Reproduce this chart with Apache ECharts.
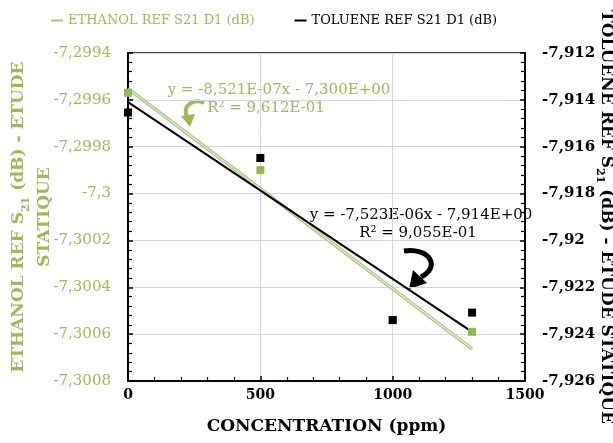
<!DOCTYPE html>
<html>
<head>
<meta charset="utf-8">
<script src="https://cdn.jsdelivr.net/npm/echarts@6/dist/echarts.min.js"></script>
<style>
html, body { margin: 0; padding: 0; background: #fff; }
#chart { width: 613px; height: 443px; }
</style>
</head>
<body>
<div id="chart"></div>
<script>
// concentrations (ppm) and S21 readings (dB)
const concentration = [0, 500, 1000, 1300];
const ethanolS21 = [-7.29957, -7.29990, -7.30054, -7.30059];
const tolueneS21 = [-7.91454, -7.91648, -7.92340, -7.92308];

// axis ranges
const xRange = [0, 1500, 500];
const leftRange = [-7.3008, -7.2994, 0.0002];
const rightRange = [-7.926, -7.912, 0.002];

const ethanolName = 'ETHANOL REF S21 D1 (dB)';
const tolueneName = 'TOLUENE REF S21 D1 (dB)';
const ethanolEq = ['y = -8,521E-07x - 7,300E+00', 'R² = 9,612E-01'];
const tolueneEq = ['y = -7,523E-06x - 7,914E+00', 'R² = 9,055E-01'];

const GREEN = '#9bbb59';
const GRIDC = '#c9daf3';
const FONT = '"DejaVu Serif", serif';

function linReg(xs, ys) {
    const n = xs.length;
    let mx = 0, my = 0;
    for (let i = 0; i < n; i++) { mx += xs[i]; my += ys[i]; }
    mx /= n; my /= n;
    let sxy = 0, sxx = 0;
    for (let i = 0; i < n; i++) {
        sxy += (xs[i] - mx) * (ys[i] - my);
        sxx += (xs[i] - mx) * (xs[i] - mx);
    }
    const m = sxy / sxx;
    return { m: m, b: my - m * mx };
}

function trend(xs, ys) {
    const r = linReg(xs, ys);
    const x0 = Math.min.apply(null, xs), x1 = Math.max.apply(null, xs);
    return [[x0, r.b + r.m * x0], [x1, r.b + r.m * x1]];
}

function fmt(v) {
    return String(parseFloat(v.toFixed(4))).replace('.', ',');
}

const pts = (ys) => concentration.map((x, i) => [x, ys[i]]);

const tickStyle = { inside: true, length: 5, lineStyle: { color: '#000', width: 1.5 } };
const minorStyle = { show: true, splitNumber: 5, length: 4, lineStyle: { color: '#000', width: 1.2 } };

let myChart = echarts.init(document.getElementById('chart'));
myChart.setOption({
    animation: false,
    textStyle: { fontFamily: FONT },
    grid: {
        left: 128, right: 88, top: 53, bottom: 62,
        containLabel: false, outerBoundsMode: 'none',
        show: true, borderColor: '#000', borderWidth: 1.5
    },
    legend: {
        left: 46, top: 9,
        itemGap: 40,
        icon: 'rect', itemWidth: 12, itemHeight: 2,
        textStyle: { fontFamily: FONT, fontSize: 13 },
        data: [
            { name: ethanolName, textStyle: { color: GREEN } },
            { name: tolueneName, textStyle: { color: '#000' } }
        ]
    },
    xAxis: {
        type: 'value',
        min: xRange[0], max: xRange[1], interval: xRange[2],
        name: 'CONCENTRATION (ppm)',
        nameLocation: 'middle', nameGap: 37, nameMoveOverlap: false,
        nameTextStyle: { color: '#000', fontSize: 17, fontWeight: 'bold', fontFamily: FONT },
        axisLine: { lineStyle: { color: '#000', width: 2 } },
        axisTick: tickStyle,
        minorTick: minorStyle,
        axisLabel: { color: '#000', fontSize: 14, fontWeight: 'bold', margin: 7, formatter: (v) => String(v) },
        splitLine: { show: true, lineStyle: { color: GRIDC, width: 1 } }
    },
    yAxis: [
        {
            type: 'value', position: 'left',
            min: leftRange[0], max: leftRange[1], interval: leftRange[2],
            name: '{a|ETHANOL REF S}{s|21}{a| (dB) - ETUDE}\n{a|STATIQUE}',
            nameLocation: 'middle', nameRotate: 90, nameGap: 70, nameMoveOverlap: false,
            nameTextStyle: {
                color: GREEN,
                rich: {
                    a: { fontSize: 17, fontWeight: 'bold', color: GREEN, fontFamily: FONT, lineHeight: 26 },
                    s: { fontSize: 11, fontWeight: 'bold', color: GREEN, fontFamily: FONT, verticalAlign: 'bottom', lineHeight: 26 }
                }
            },
            axisLine: { show: true, onZero: false, lineStyle: { color: '#000', width: 2 } },
            axisTick: tickStyle,
            minorTick: minorStyle,
            axisLabel: { color: GREEN, fontSize: 15, margin: 17, formatter: fmt },
            splitLine: { show: true, lineStyle: { color: GRIDC, width: 1 } }
        },
        {
            type: 'value', position: 'right',
            min: rightRange[0], max: rightRange[1], interval: rightRange[2],
            name: '{a|TOLUENE REF S}{s|21}{a| (dB) - ETUDE STATIQUE}',
            nameLocation: 'middle', nameRotate: -90, nameGap: 69, nameMoveOverlap: false,
            nameTextStyle: {
                color: '#000',
                rich: {
                    a: { fontSize: 17, fontWeight: 'bold', color: '#000', fontFamily: FONT, lineHeight: 25 },
                    s: { fontSize: 11, fontWeight: 'bold', color: '#000', fontFamily: FONT, verticalAlign: 'bottom', lineHeight: 25 }
                }
            },
            axisLine: { show: true, onZero: false, lineStyle: { color: '#000', width: 2 } },
            axisTick: tickStyle,
            minorTick: minorStyle,
            axisLabel: { color: '#000', fontSize: 15, fontWeight: 'bold', margin: 17, formatter: fmt },
            splitLine: { show: false }
        }
    ],
    series: [
        {
            name: ethanolName, type: 'line', yAxisIndex: 0,
            data: trend(concentration, ethanolS21),
            showSymbol: false, symbol: 'none', color: '#a8c77c',
            lineStyle: { color: '#a8c77c', width: 3.5 }, z: 3
        },
        {
            name: 'ethanol trend inner', type: 'line', yAxisIndex: 0,
            data: trend(concentration, ethanolS21),
            showSymbol: false, symbol: 'none',
            lineStyle: { color: '#e2ecd3', width: 1.2 }, z: 3
        },
        {
            name: tolueneName, type: 'line', yAxisIndex: 1,
            data: trend(concentration, tolueneS21),
            showSymbol: false, symbol: 'none', color: '#000',
            lineStyle: { color: '#000', width: 2 }, z: 4
        },
        {
            name: 'ethanol pts', type: 'scatter', yAxisIndex: 0,
            data: pts(ethanolS21),
            symbol: 'rect', symbolSize: 8,
            itemStyle: { color: '#92b850', opacity: 1 }, z: 5
        },
        {
            name: 'toluene pts', type: 'scatter', yAxisIndex: 1,
            data: pts(tolueneS21),
            symbol: 'rect', symbolSize: 8,
            itemStyle: { color: '#000', opacity: 1 }, z: 6
        }
    ],
    graphic: [
        { type: 'text', x: 279, y: 90, style: { text: ethanolEq[0], fill: GREEN, font: '15px ' + FONT, align: 'center', verticalAlign: 'middle' } },
        { type: 'text', x: 266, y: 108, style: { text: ethanolEq[1], fill: GREEN, font: '15px ' + FONT, align: 'center', verticalAlign: 'middle' } },
        { type: 'text', x: 421, y: 215, style: { text: tolueneEq[0], fill: '#000', font: '15px ' + FONT, align: 'center', verticalAlign: 'middle' } },
        { type: 'text', x: 418, y: 233, style: { text: tolueneEq[1], fill: '#000', font: '15px ' + FONT, align: 'center', verticalAlign: 'middle' } },
        // curved arrows
        { type: 'bezierCurve', shape: { x1: 204, y1: 103, cpx1: 193, cpy1: 98, cpx2: 182, cpy2: 106, x2: 187, y2: 117 },
          style: { stroke: GREEN, lineWidth: 4, fill: null } },
        { type: 'polygon', shape: { points: [[181, 116], [195, 114], [190, 127]] }, style: { fill: GREEN } },
        { type: 'bezierCurve', shape: { x1: 404, y1: 251, cpx1: 428, cpy1: 247, cpx2: 442, cpy2: 266, x2: 421, y2: 277 },
          style: { stroke: '#000', lineWidth: 5, fill: null } },
        { type: 'polygon', shape: { points: [[413, 270], [427, 283], [409, 289]] }, style: { fill: '#000' } }
    ]
});
</script>
</body>
</html>
